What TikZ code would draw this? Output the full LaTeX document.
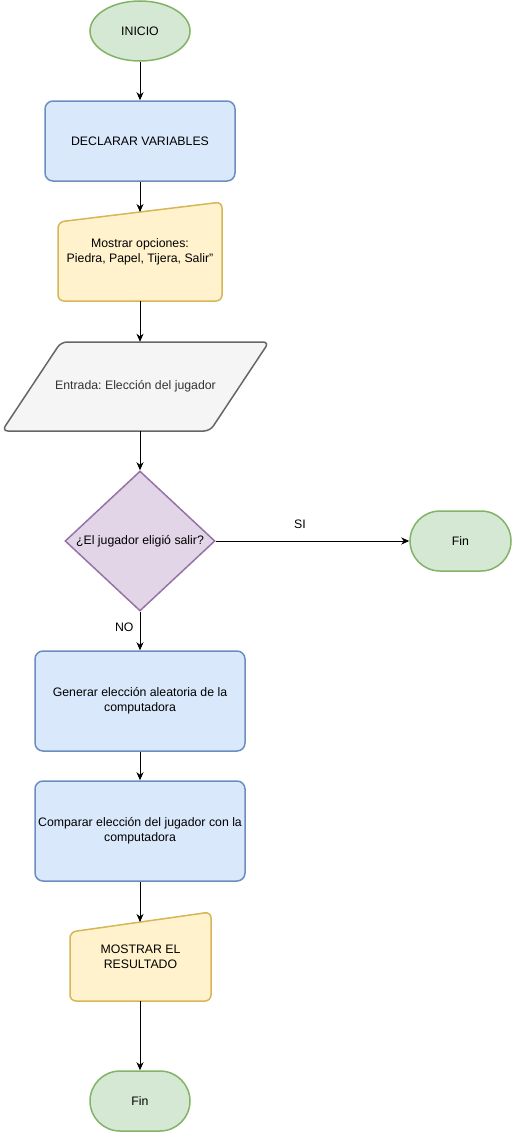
\documentclass[tikz,border=0pt]{standalone}
\usepackage{fontspec}
\setmainfont{Liberation Sans}
\usetikzlibrary{arrows.meta,shapes.geometric}
\frenchspacing

\definecolor{gfill}{HTML}{D5E8D4}\definecolor{gline}{HTML}{82B366}
\definecolor{bfill}{HTML}{DAE8FC}\definecolor{bline}{HTML}{6C8EBF}
\definecolor{yfill}{HTML}{FFF2CC}\definecolor{yline}{HTML}{D6B656}
\definecolor{kfill}{HTML}{F5F5F5}\definecolor{kline}{HTML}{666666}
\definecolor{pfill}{HTML}{E1D5E7}\definecolor{pline}{HTML}{9673A6}
\definecolor{ktext}{HTML}{333333}

\begin{document}
\begin{tikzpicture}[x=1pt,y=-1pt,
  every node/.style={font=\fontsize{12.3}{15}\selectfont, align=center, inner sep=0pt},
  startbox/.style={ellipse, draw=gline, fill=gfill, line width=1.5pt,
    minimum width=100pt, minimum height=60pt},
  endbox/.style={rectangle, rounded corners=30pt, draw=gline, fill=gfill, line width=1.5pt,
    minimum width=100pt, minimum height=60pt},
  procbox/.style={rectangle, rounded corners=8pt, draw=bline, fill=bfill, line width=1.5pt},
  manualshape/.style={draw=yline, fill=yfill, line width=1.5pt, rounded corners=6pt},
  ioshape/.style={draw=kline, fill=kfill, line width=1.5pt, rounded corners=6pt},
  decbox/.style={diamond, draw=pline, fill=pfill, line width=1.5pt,
    minimum width=150pt, minimum height=140pt},
  flow/.style={draw=black, line width=0.9pt, -{Stealth[length=8pt,width=7pt,inset=2.5pt]}}
]
\useasboundingbox (0,0) rectangle (513,1132);

% start
\node[startbox] (start) at (140,31) {INICIO};

% declarations
\node[procbox, minimum width=190pt, minimum height=80pt] (decl) at (140,141) {DECLARAR VARIABLES};

% manual input: show options
\draw[manualshape] (58,222) -- (222,202) -- (222,301) -- (58,301) -- cycle;
\node[minimum width=164pt, minimum height=99pt] (opts) at (140,251.5)
  {Mostrar opciones:\\ Piedra, Papel, Tijera, Salir"};
\coordinate (optsin) at (140,212);

% player input
\draw[ioshape] (61,342) -- (269,342) -- (210,431) -- (2,431) -- cycle;
\node[minimum width=267pt, minimum height=89pt, text=ktext] (entr) at (135.5,386.5)
  {Entrada: Elección del jugador};

% decision
\node[decbox] (dec) at (140,541) {};
\node (dectext) at (dec.center) {¿El jugador eligió salir?};

% exit on the right
\node[endbox, minimum width=101pt] (fin1) at (460.5,541) {Fin};

% processing steps
\node[procbox, minimum width=210pt, minimum height=100pt] (gen) at (140,701)
  {Generar elección aleatoria de la\\computadora};
\node[procbox, minimum width=210pt, minimum height=100pt] (comp) at (140,831)
  {Comparar elección del jugador con la\\computadora};

% manual output: result
\draw[manualshape] (70,932) -- (211,912) -- (211,1001) -- (70,1001) -- cycle;
\node[minimum width=141pt, minimum height=89pt] (res) at (140.5,956.5)
  {MOSTRAR EL\\RESULTADO};
\coordinate (resin) at (140,922);
\coordinate (resout) at (140,1001);

% final end
\node[endbox] (fin2) at (140,1101) {Fin};

% connectors
\draw[flow] (start) -- (decl);
\draw[flow] (decl) -- (optsin);
\draw[flow] (opts.south) -- (opts.south |- entr.north);
\draw[flow] (dec.north |- entr.south) -- (dec.north);
\draw[flow] (dec.east) -- (fin1.west);
\node (si) at (300,524) {SI};
\draw[flow] (dec.south) -- node[left=6pt, pos=0.4] (no) {NO} (gen.north);
\draw[flow] (gen) -- (comp);
\draw[flow] (comp) -- (resin);
\draw[flow] (resout) -- (fin2);
\end{tikzpicture}
\end{document}
